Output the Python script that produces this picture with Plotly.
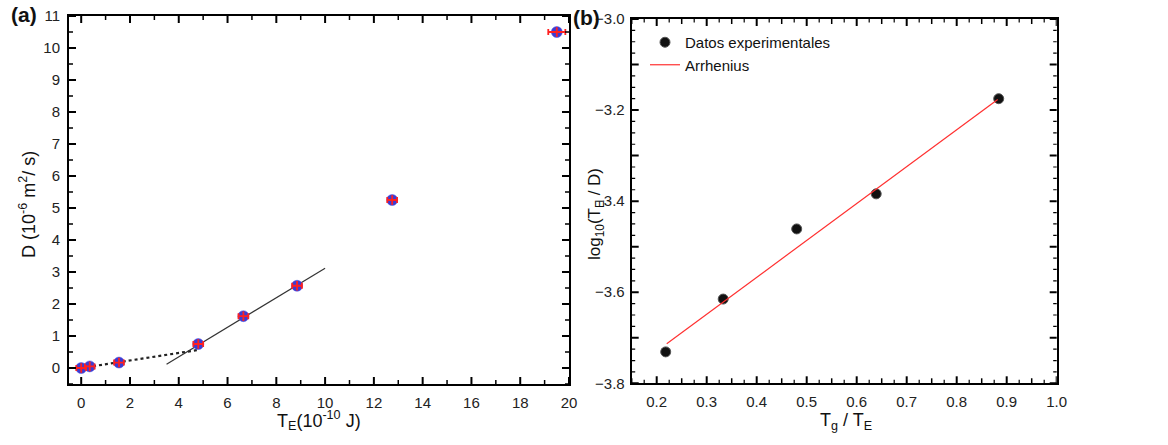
import plotly.graph_objects as go

# ---------------- data: panel (a) ----------------
te_a = [0.0, 0.35, 1.55, 4.8, 6.65, 8.85, 12.75, 19.5]
d_a = [0.0, 0.05, 0.17, 0.75, 1.62, 2.57, 5.25, 10.5]
err_x_a = [0.2, 0.2, 0.2, 0.2, 0.2, 0.2, 0.2, 0.35]
err_y_a = [0.15, 0.15, 0.15, 0.15, 0.15, 0.15, 0.15, 0.15]
fit_low_x = [0.0, 4.85]
fit_low_y = [0.0, 0.57]
fit_high_x = [3.5, 10.0]
fit_high_y = [0.12, 3.12]

# ---------------- data: panel (b) ----------------
tg_te = [0.218, 0.333, 0.480, 0.639, 0.884]
log_te_d = [-3.731, -3.615, -3.461, -3.384, -3.175]
arrh_x = [0.22, 0.882]
arrh_y = [-3.713, -3.177]

W, H = 1168, 445
ML, MR, MT, MB = 20, 20, 10, 10
FONT = "Liberation Sans, Arial, sans-serif"


def fx(px):
    return (px - ML) / (W - ML - MR)


def fy(py):
    return (H - MB - py) / (H - MT - MB)


fig = go.Figure()

# panel (a)
fig.add_trace(go.Scatter(x=fit_low_x, y=fit_low_y, mode="lines",
                         line=dict(color="#222", width=2.2, dash="dot"),
                         showlegend=False, xaxis="x", yaxis="y"))
fig.add_trace(go.Scatter(x=fit_high_x, y=fit_high_y, mode="lines",
                         line=dict(color="#333", width=1.2),
                         showlegend=False, xaxis="x", yaxis="y"))
fig.add_trace(go.Scatter(x=te_a, y=d_a, mode="markers",
                         marker=dict(color="#3c3cd2", size=11, symbol="circle",
                                     line=dict(color="#5050e0", width=0.5)),
                         showlegend=False, xaxis="x", yaxis="y"))
fig.add_trace(go.Scatter(x=te_a, y=d_a, mode="markers",
                         marker=dict(color="rgba(0,0,0,0)", size=1),
                         error_x=dict(type="data", array=err_x_a, color="#ff2020",
                                      thickness=1.8, width=3),
                         error_y=dict(type="data", array=err_y_a, color="#ff2020",
                                      thickness=1.8, width=0),
                         showlegend=False, xaxis="x", yaxis="y"))

# panel (b)
fig.add_trace(go.Scatter(x=tg_te, y=log_te_d, mode="markers", name="Datos experimentales",
                         marker=dict(color="#111", size=10, symbol="circle",
                                     line=dict(color="#555", width=1)),
                         xaxis="x2", yaxis="y2"))
fig.add_trace(go.Scatter(x=arrh_x, y=arrh_y, mode="lines", name="Arrhenius",
                         line=dict(color="#ff3030", width=1.2),
                         xaxis="x2", yaxis="y2"))


def ax(**kw):
    d = dict(showline=True, linecolor="black", linewidth=2, mirror=True,
             ticks="", showgrid=False, zeroline=False,
             tickfont=dict(size=15, color="#222"))
    d.update(kw)
    return d


fig.update_layout(
    template="none",
    width=W, height=H, margin=dict(l=ML, r=MR, t=MT, b=MB),
    paper_bgcolor="white", plot_bgcolor="white",
    font=dict(family=FONT, color="#222"),
    xaxis=ax(domain=[fx(69), fx(569)], range=[-0.5, 20], dtick=2, ticklabelstandoff=4),
    yaxis=ax(domain=[fy(384), fy(16)], range=[-0.5, 11], dtick=1, ticklabelstandoff=4),
    xaxis2=ax(domain=[fx(631.7), fx(1056.7)], range=[0.15, 1.0], anchor="y2",
              dtick=0.1, tickformat=".1f", ticklabelstandoff=4),
    yaxis2=ax(domain=[fy(383.3), fy(19)], range=[-3.8, -3.0], anchor="x2",
              dtick=0.2, tickformat=".1f", ticklabelstandoff=2),
    legend=dict(x=fx(645), y=fy(26), xanchor="left", yanchor="top",
                bgcolor="rgba(0,0,0,0)", font=dict(size=15, color="#111"),
                tracegroupgap=2, itemwidth=30),
)


# inside tick marks on all four sides, placed through the axes' own scales
def frange(start, stop, step):
    n = int(round((stop - start) / step))
    return [start + i * step for i in range(n + 1)]


def xticks(xref, ydom, vals, length, width):
    for v in vals:
        for anc, sgn in ((0, 1), (1, -1)):
            fig.add_shape(type="line", xref=xref, yref=ydom, ysizemode="pixel", yanchor=anc,
                          x0=v, x1=v, y0=0, y1=sgn * length, layer="above",
                          line=dict(color="black", width=width))


def yticks(yref, xdom, vals, length, width):
    for v in vals:
        for anc, sgn in ((0, 1), (1, -1)):
            fig.add_shape(type="line", xref=xdom, yref=yref, xsizemode="pixel", xanchor=anc,
                          y0=v, y1=v, x0=0, x1=sgn * length, layer="above",
                          line=dict(color="black", width=width))


xticks("x", "y domain", frange(0, 20, 2), 7, 2)
xticks("x", "y domain", frange(1, 19, 2), 4, 1.5)
yticks("y", "x domain", frange(0, 11, 1), 7, 2)
yticks("y", "x domain", frange(-0.5, 10.5, 1), 4, 1.5)

xticks("x2", "y2 domain", frange(0.2, 1.0, 0.1), 7, 2)
xticks("x2", "y2 domain", frange(0.15, 0.95, 0.1), 5, 1.5)
xticks("x2", "y2 domain", frange(0.175, 0.975, 0.05), 3.5, 1.2)
yticks("y2", "x2 domain", frange(-3.8, -3.0, 0.1), 7, 2)
yticks("y2", "x2 domain", frange(-3.775, -3.025, 0.05), 3.5, 1.2)
yticks("y2", "x2 domain", frange(-3.75, -3.05, 0.1), 3.5, 1.2)

annots = [
    dict(text="<b>(a)</b>", x=24, y=15, size=21),
    dict(text="<b>(b)</b>", x=586, y=18, size=21),
    dict(text="T<sub>E</sub>(10<sup>-10</sup> J)", x=319, y=420, size=18),
    dict(text="T<sub>g</sub> / T<sub>E</sub>", x=846, y=421, size=18),
    dict(text="D (10<sup>-6</sup> m<sup>2</sup>/ s)", x=27, y=205, size=18, angle=-90),
    dict(text="log<sub>10</sub>(T<sub>E</sub> / D)", x=596, y=214, size=17, angle=-90),
]
for a in annots:
    fig.add_annotation(text=a["text"], x=fx(a["x"]), y=fy(a["y"]), xref="paper", yref="paper",
                       xanchor="center", yanchor="middle", showarrow=False,
                       textangle=a.get("angle", 0),
                       font=dict(size=a["size"], color="#111"))

fig.write_html("out.html")
